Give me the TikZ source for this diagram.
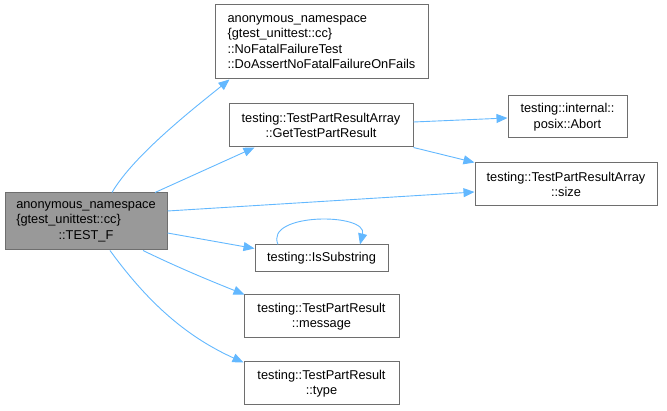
\documentclass[tikz,border=0pt]{standalone}
\usepackage{fontspec}
\setmainfont{Liberation Sans}
\usepackage{calc}
\usepackage{tikz}
\usetikzlibrary{arrows.meta}
\definecolor{GraphEdge}{RGB}{99,184,255}
\definecolor{GraphLine}{RGB}{110,110,110}
\definecolor{GraphGray}{RGB}{153,153,153}

\begin{document}
\begin{tikzpicture}[x=1pt, y=-1pt,
    fnode/.style={draw=GraphLine, line width=1pt, fill=white, inner sep=0pt,
      font=\fontsize{12.8}{15.5}\selectfont},
    mainnode/.style={fnode, fill=GraphGray},
    call/.style={GraphEdge, line width=0.9pt, -{Triangle[length=11pt,width=9pt]}}]
        \useasboundingbox (0,0) rectangle (667,411);
        % Caller
        \node[mainnode, minimum width=162pt, minimum height=57pt, align=left] (test) at (86,221.5)
              {anonymous\_namespace\\\{gtest\_unittest::cc\}\\\makebox[\widthof{anonymous\_namespace}]{::TEST\_F}};
        % Callees
        \node[fnode, minimum width=213pt, minimum height=74pt, align=left] (assert) at (321.5,42)
              {anonymous\_namespace\\\{gtest\_unittest::cc\}\\::NoFatalFailureTest\\::DoAssertNoFatalFailureOnFails};
        \node[fnode, minimum width=184pt, minimum height=43pt, align=center] (getres) at (321,125.5)
              {testing::TestPartResultArray\\::GetTestPartResult};
        \node[fnode, minimum width=119pt, minimum height=42pt, align=center] (abort) at (567.5,117)
              {testing::internal::\\posix::Abort};
        \node[fnode, minimum width=182pt, minimum height=43pt, align=center] (size) at (566,184.5)
              {testing::TestPartResultArray\\::size};
        \node[fnode, minimum width=133pt, minimum height=27pt] (substr) at (321.5,258.5)
              {testing::IsSubstring};
        \node[fnode, minimum width=155pt, minimum height=43pt, align=center] (message) at (321.5,316.5)
              {testing::TestPartResult\\::message};
        \node[fnode, minimum width=155pt, minimum height=43pt, align=center] (type) at (321.5,383.5)
              {testing::TestPartResult\\::type};
        % Calls
        \draw[call] ([xshift=26pt]test.north) .. controls +(22,-38) and +(-32,26) .. ([xshift=15pt]assert.south west);
        \draw[call] ([xshift=69pt]test.north) -- ([xshift=26pt]getres.south west);
        \draw[call] ([yshift=10.5pt]test.east) -- ([yshift=-7.5pt]size.west);
        \draw[call] ([yshift=-11.5pt]test.east) -- ([yshift=10pt]substr.west);
        \draw[call] ([xshift=57pt]test.south) .. controls +(35,17) and +(-35,-14) .. ([xshift=1pt]message.north west);
        \draw[call] ([xshift=24pt]test.south) .. controls +(40,55) and +(-55,-25) .. ([yshift=-1pt]type.north west);
        \draw[call] ([yshift=3.5pt]getres.east) -- ([yshift=-1pt]abort.west);
        \draw[call] (getres.south east) -- (size.north west);
        % Recursive call
        \draw[call] ([xshift=-43.5pt]substr.north) .. controls +(-14,-32) and +(8,-32) .. ([xshift=38.5pt]substr.north);
      \end{tikzpicture}
\end{document}
